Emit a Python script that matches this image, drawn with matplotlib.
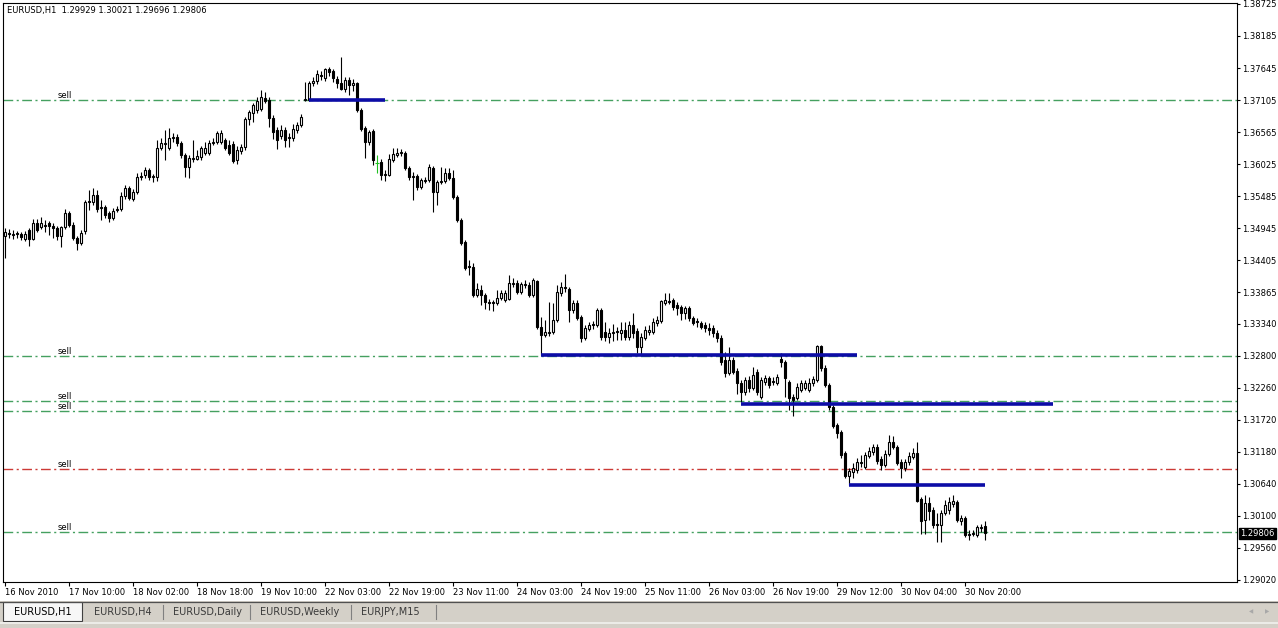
"""
	eurusd_h1_chart.py

	metatrader style candle chart of EURUSD H1 with sell levels
"""

# import required libraries
import numpy as np
import matplotlib
matplotlib.use('Agg')
import matplotlib.pyplot as plt
from matplotlib.patches import Rectangle

# candle data, one value per hourly bar
opens = [
	1.3482, 1.3487, 1.3483, 1.3487, 1.3485, 1.3476, 1.3492, 1.3476, 1.3503, 1.3497,
	1.3500, 1.3503, 1.3498, 1.3495, 1.3482, 1.3497, 1.3520, 1.3500, 1.3478, 1.3470,
	1.3490, 1.3541, 1.3539, 1.3551, 1.3529, 1.3530, 1.3520, 1.3512, 1.3525, 1.3527,
	1.3549, 1.3562, 1.3544, 1.3556, 1.3581, 1.3584, 1.3593, 1.3581, 1.3581, 1.3630,
	1.3637, 1.3630, 1.3647, 1.3648, 1.3638, 1.3618, 1.3598, 1.3611, 1.3611, 1.3615,
	1.3621, 1.3621, 1.3638, 1.3640, 1.3640, 1.3643, 1.3635, 1.3637, 1.3610, 1.3625,
	1.3631, 1.3679, 1.3689, 1.3694, 1.3696, 1.3714, 1.3711, 1.3680, 1.3660, 1.3650,
	1.3660, 1.3647, 1.3647, 1.3660, 1.3669, 1.3711, 1.3711, 1.3739, 1.3743, 1.3753,
	1.3748, 1.3763, 1.3760, 1.3746, 1.3739, 1.3729, 1.3744, 1.3736, 1.3739, 1.3694,
	1.3664, 1.3640, 1.3658, 1.3605, 1.3606, 1.3584, 1.3584, 1.3610, 1.3618, 1.3621,
	1.3621, 1.3596, 1.3581, 1.3583, 1.3564, 1.3574, 1.3576, 1.3596, 1.3556, 1.3573,
	1.3574, 1.3588, 1.3579, 1.3547, 1.3509, 1.3471, 1.3431, 1.3429, 1.3382, 1.3391,
	1.3382, 1.3370, 1.3370, 1.3369, 1.3377, 1.3374, 1.3375, 1.3401, 1.3402, 1.3387,
	1.3399, 1.3399, 1.3382, 1.3406, 1.3328, 1.3315, 1.3318, 1.3320, 1.3340, 1.3385,
	1.3396, 1.3392, 1.3357, 1.3369, 1.3345, 1.3310, 1.3325, 1.3333, 1.3332, 1.3357,
	1.3320, 1.3311, 1.3318, 1.3321, 1.3318, 1.3323, 1.3311, 1.3332, 1.3321, 1.3294,
	1.3310, 1.3320, 1.3320, 1.3335, 1.3338, 1.3369, 1.3372, 1.3374, 1.3365, 1.3362,
	1.3352, 1.3360, 1.3343, 1.3338, 1.3335, 1.3332, 1.3327, 1.3327, 1.3318, 1.3310,
	1.3273, 1.3251, 1.3273, 1.3254, 1.3234, 1.3219, 1.3239, 1.3225, 1.3252, 1.3210,
	1.3236, 1.3242, 1.3237, 1.3234, 1.3274, 1.3269, 1.3236, 1.3210, 1.3209, 1.3222,
	1.3225, 1.3222, 1.3234, 1.3239, 1.3296, 1.3259, 1.3230, 1.3193, 1.3163, 1.3151,
	1.3116, 1.3077, 1.3084, 1.3087, 1.3099, 1.3092, 1.3111, 1.3118, 1.3126, 1.3106,
	1.3096, 1.3114, 1.3134, 1.3126, 1.3101, 1.3091, 1.3101, 1.3109, 1.3116, 1.3038,
	1.3003, 1.3032, 1.3020, 1.2996, 1.2995, 1.3015, 1.3020, 1.3030, 1.3033, 1.3001,
	1.3006, 1.2978, 1.2979, 1.2978, 1.2990, 1.29929]

highs = [
	1.3495, 1.3493, 1.3492, 1.3490, 1.3488, 1.3490, 1.3495, 1.3510, 1.3510, 1.3514,
	1.3509, 1.3507, 1.3503, 1.3498, 1.3498, 1.3527, 1.3524, 1.3505, 1.3482, 1.3492,
	1.3542, 1.3559, 1.3562, 1.3559, 1.3542, 1.3534, 1.3524, 1.3529, 1.3532, 1.3556,
	1.3567, 1.3566, 1.3561, 1.3588, 1.3589, 1.3598, 1.3596, 1.3586, 1.3643, 1.3647,
	1.3660, 1.3664, 1.3655, 1.3653, 1.3642, 1.3621, 1.3618, 1.3643, 1.3626, 1.3633,
	1.3640, 1.3643, 1.3647, 1.3658, 1.3660, 1.3647, 1.3643, 1.3642, 1.3633, 1.3637,
	1.3682, 1.3694, 1.3706, 1.3716, 1.3728, 1.3724, 1.3716, 1.3685, 1.3665, 1.3669,
	1.3665, 1.3655, 1.3670, 1.3674, 1.3687, 1.3741, 1.3743, 1.3749, 1.3761, 1.3760,
	1.3765, 1.3766, 1.3763, 1.3751, 1.3783, 1.3749, 1.3749, 1.3746, 1.3741, 1.3697,
	1.3667, 1.3660, 1.3662, 1.3618, 1.3611, 1.3593, 1.3620, 1.3630, 1.3630, 1.3628,
	1.3625, 1.3599, 1.3589, 1.3586, 1.3579, 1.3581, 1.3603, 1.3599, 1.3576, 1.3598,
	1.3596, 1.3596, 1.3593, 1.3551, 1.3512, 1.3475, 1.3441, 1.3436, 1.3402, 1.3399,
	1.3385, 1.3375, 1.3374, 1.3391, 1.3391, 1.3391, 1.3416, 1.3411, 1.3407, 1.3404,
	1.3407, 1.3404, 1.3411, 1.3407, 1.3345, 1.3340, 1.3370, 1.3369, 1.3399, 1.3404,
	1.3418, 1.3396, 1.3374, 1.3374, 1.3348, 1.3332, 1.3337, 1.3338, 1.3360, 1.3360,
	1.3337, 1.3327, 1.3333, 1.3328, 1.3337, 1.3337, 1.3338, 1.3352, 1.3327, 1.3318,
	1.3330, 1.3332, 1.3343, 1.3347, 1.3374, 1.3385, 1.3385, 1.3377, 1.3370, 1.3365,
	1.3364, 1.3364, 1.3347, 1.3343, 1.3338, 1.3337, 1.3335, 1.3332, 1.3323, 1.3315,
	1.3286, 1.3294, 1.3278, 1.3259, 1.3239, 1.3244, 1.3246, 1.3261, 1.3257, 1.3244,
	1.3247, 1.3246, 1.3244, 1.3249, 1.3284, 1.3273, 1.3239, 1.3215, 1.3234, 1.3239,
	1.3239, 1.3242, 1.3246, 1.3298, 1.3298, 1.3264, 1.3234, 1.3197, 1.3166, 1.3155,
	1.3119, 1.3091, 1.3099, 1.3107, 1.3113, 1.3118, 1.3126, 1.3131, 1.3131, 1.3111,
	1.3121, 1.3146, 1.3145, 1.3129, 1.3106, 1.3106, 1.3118, 1.3124, 1.3134, 1.3042,
	1.3045, 1.3042, 1.3025, 1.3015, 1.3020, 1.3037, 1.3042, 1.3045, 1.3037, 1.3011,
	1.3010, 1.2986, 1.2986, 1.2995, 1.2996, 1.30021]

lows = [
	1.3444, 1.3478, 1.3476, 1.3478, 1.3475, 1.3473, 1.3465, 1.3475, 1.3488, 1.3493,
	1.3488, 1.3483, 1.3478, 1.3475, 1.3463, 1.3493, 1.3497, 1.3475, 1.3458, 1.3466,
	1.3485, 1.3525, 1.3534, 1.3522, 1.3509, 1.3512, 1.3505, 1.3509, 1.3522, 1.3524,
	1.3544, 1.3542, 1.3541, 1.3552, 1.3576, 1.3579, 1.3576, 1.3573, 1.3574, 1.3626,
	1.3610, 1.3626, 1.3640, 1.3633, 1.3613, 1.3581, 1.3579, 1.3606, 1.3610, 1.3610,
	1.3618, 1.3618, 1.3635, 1.3637, 1.3637, 1.3626, 1.3618, 1.3605, 1.3603, 1.3620,
	1.3626, 1.3669, 1.3674, 1.3689, 1.3692, 1.3706, 1.3665, 1.3645, 1.3628, 1.3645,
	1.3631, 1.3631, 1.3642, 1.3655, 1.3665, 1.3709, 1.3709, 1.3734, 1.3738, 1.3744,
	1.3743, 1.3751, 1.3741, 1.3731, 1.3728, 1.3724, 1.3719, 1.3726, 1.3690, 1.3658,
	1.3613, 1.3635, 1.3601, 1.3588, 1.3576, 1.3574, 1.3583, 1.3606, 1.3615, 1.3616,
	1.3593, 1.3576, 1.3542, 1.3559, 1.3561, 1.3571, 1.3573, 1.3522, 1.3534, 1.3569,
	1.3571, 1.3576, 1.3544, 1.3505, 1.3466, 1.3424, 1.3416, 1.3379, 1.3379, 1.3365,
	1.3359, 1.3357, 1.3355, 1.3365, 1.3374, 1.3370, 1.3374, 1.3396, 1.3384, 1.3384,
	1.3394, 1.3379, 1.3379, 1.3325, 1.3281, 1.3311, 1.3313, 1.3316, 1.3337, 1.3380,
	1.3387, 1.3337, 1.3352, 1.3340, 1.3303, 1.3306, 1.3321, 1.3325, 1.3328, 1.3306,
	1.3305, 1.3301, 1.3305, 1.3306, 1.3306, 1.3306, 1.3306, 1.3310, 1.3284, 1.3281,
	1.3306, 1.3315, 1.3316, 1.3330, 1.3335, 1.3365, 1.3367, 1.3357, 1.3348, 1.3340,
	1.3342, 1.3338, 1.3332, 1.3328, 1.3325, 1.3320, 1.3315, 1.3311, 1.3303, 1.3264,
	1.3244, 1.3247, 1.3249, 1.3215, 1.3202, 1.3214, 1.3219, 1.3222, 1.3214, 1.3207,
	1.3230, 1.3225, 1.3230, 1.3230, 1.3261, 1.3210, 1.3188, 1.3178, 1.3205, 1.3219,
	1.3222, 1.3219, 1.3229, 1.3236, 1.3254, 1.3227, 1.3188, 1.3158, 1.3141, 1.3107,
	1.3074, 1.3062, 1.3074, 1.3082, 1.3092, 1.3089, 1.3107, 1.3113, 1.3097, 1.3087,
	1.3092, 1.3111, 1.3123, 1.3096, 1.3074, 1.3086, 1.3096, 1.3106, 1.3033, 1.2979,
	1.2979, 1.3003, 1.2990, 1.2966, 1.2966, 1.3011, 1.3013, 1.3025, 1.3000, 1.2995,
	1.2974, 1.2969, 1.2976, 1.2974, 1.2983, 1.29696]

closes = [
	1.3488, 1.3485, 1.3485, 1.3485, 1.3480, 1.3485, 1.3476, 1.3503, 1.3492, 1.3503,
	1.3498, 1.3498, 1.3495, 1.3482, 1.3497, 1.3520, 1.3500, 1.3478, 1.3470, 1.3487,
	1.3539, 1.3539, 1.3551, 1.3527, 1.3530, 1.3517, 1.3512, 1.3524, 1.3527, 1.3549,
	1.3562, 1.3546, 1.3556, 1.3581, 1.3583, 1.3593, 1.3581, 1.3583, 1.3630, 1.3638,
	1.3638, 1.3647, 1.3648, 1.3638, 1.3618, 1.3598, 1.3613, 1.3613, 1.3616, 1.3630,
	1.3630, 1.3638, 1.3640, 1.3655, 1.3655, 1.3630, 1.3621, 1.3608, 1.3626, 1.3631,
	1.3679, 1.3690, 1.3702, 1.3709, 1.3716, 1.3709, 1.3680, 1.3657, 1.3643, 1.3660,
	1.3643, 1.3648, 1.3662, 1.3669, 1.3682, 1.3712, 1.3739, 1.3743, 1.3755, 1.3751,
	1.3763, 1.3758, 1.3748, 1.3739, 1.3729, 1.3744, 1.3736, 1.3739, 1.3694, 1.3662,
	1.3640, 1.3657, 1.3610, 1.3605, 1.3584, 1.3586, 1.3611, 1.3620, 1.3621, 1.3623,
	1.3596, 1.3581, 1.3583, 1.3564, 1.3576, 1.3576, 1.3598, 1.3556, 1.3573, 1.3574,
	1.3588, 1.3579, 1.3547, 1.3509, 1.3470, 1.3428, 1.3429, 1.3382, 1.3392, 1.3382,
	1.3370, 1.3369, 1.3369, 1.3377, 1.3385, 1.3385, 1.3402, 1.3402, 1.3387, 1.3401,
	1.3401, 1.3382, 1.3407, 1.3328, 1.3315, 1.3320, 1.3320, 1.3340, 1.3387, 1.3396,
	1.3394, 1.3357, 1.3369, 1.3343, 1.3310, 1.3327, 1.3332, 1.3332, 1.3357, 1.3311,
	1.3311, 1.3318, 1.3320, 1.3320, 1.3323, 1.3311, 1.3332, 1.3318, 1.3294, 1.3311,
	1.3323, 1.3323, 1.3337, 1.3340, 1.3372, 1.3374, 1.3370, 1.3362, 1.3360, 1.3352,
	1.3360, 1.3343, 1.3335, 1.3337, 1.3328, 1.3327, 1.3323, 1.3318, 1.3310, 1.3269,
	1.3251, 1.3273, 1.3252, 1.3234, 1.3219, 1.3239, 1.3225, 1.3247, 1.3219, 1.3239,
	1.3242, 1.3230, 1.3236, 1.3244, 1.3269, 1.3242, 1.3209, 1.3205, 1.3227, 1.3234,
	1.3234, 1.3234, 1.3241, 1.3296, 1.3259, 1.3230, 1.3193, 1.3161, 1.3150, 1.3113,
	1.3077, 1.3086, 1.3091, 1.3101, 1.3101, 1.3113, 1.3119, 1.3126, 1.3102, 1.3096,
	1.3114, 1.3134, 1.3126, 1.3099, 1.3091, 1.3101, 1.3111, 1.3116, 1.3035, 1.3001,
	1.3032, 1.3018, 1.2995, 1.2995, 1.3015, 1.3028, 1.3033, 1.3035, 1.3003, 1.3006,
	1.2978, 1.2979, 1.2981, 1.2991, 1.2991, 1.29806]

# time axis labels, one every 16 bars
time_labels = ['16 Nov 2010', '17 Nov 10:00', '18 Nov 02:00', '18 Nov 18:00',
	'19 Nov 10:00', '22 Nov 03:00', '22 Nov 19:00', '23 Nov 11:00',
	'24 Nov 03:00', '24 Nov 19:00', '25 Nov 11:00', '26 Nov 03:00',
	'26 Nov 19:00', '29 Nov 12:00', '30 Nov 04:00', '30 Nov 20:00']
time_label_bars = [0, 16, 32, 48, 64, 80, 96, 112, 128, 144, 160, 176, 192, 208, 224, 240]

# price scale labels
price_ticks = [1.38725, 1.38185, 1.37645, 1.37105, 1.36565, 1.36025, 1.35485,
	1.34945, 1.34405, 1.33865, 1.33340, 1.32800, 1.32260, 1.31720, 1.31180,
	1.30640, 1.30100, 1.29560, 1.29020]

# horizontal "sell" levels
sell_levels = [1.37105, 1.32800, 1.32030, 1.31860, 1.30890, 1.29820]
sell_kinds = ['green', 'green', 'green', 'green', 'red', 'green']

# blue trade lines: first bar, last bar, price
trade_start = [76, 134, 184, 211]
trade_end = [95, 213, 262, 245]
trade_price = [1.37105, 1.32810, 1.31980, 1.30620]

# bars drawn in the line colour (doji)
doji_bars = [93]

tab_names = ['EURUSD,H1', 'EURUSD,H4', 'EURUSD,Daily', 'EURUSD,Weekly', 'EURJPY,M15']

# figure setup
plt.rcParams['font.family'] = 'DejaVu Sans'
plt.rcParams['font.size'] = 6
plt.rcParams['lines.scale_dashes'] = False

W, H = 1278, 628
fig = plt.figure(figsize=(W / 100, H / 100), dpi=100, facecolor='white')

# background axes in pixel units for the tab bar
bg = fig.add_axes([0, 0, 1, 1], zorder=0)
bg.set_xlim(0, W)
bg.set_ylim(H, 0)
bg.axis('off')

# chart area
ax = fig.add_axes([3 / W, (H - 582) / H, 1234 / W, 579 / H], zorder=1)
ax.set_facecolor('white')
ax.set_xlim(-0.5, 308)
ax.set_ylim(1.28985, 1.38741)

o = np.array(opens)
h = np.array(highs)
l = np.array(lows)
c = np.array(closes)
x = np.arange(len(c))

green = '#45a060'
line_green = '#20c020'
red = '#cc3a36'
blue = '#0c0ca6'

# sell levels behind candles
for lev, kind in zip(sell_levels, sell_kinds):
	col = green if kind == 'green' else red
	ax.axhline(lev, color=col, lw=1.0, linestyle=(0, (7, 2.5, 1.5, 2.5)), zorder=1)
	ax.text(0.0446, lev, 'sell', transform=ax.get_yaxis_transform(),
		ha='left', va='bottom', fontsize=6, color='black')

# candle colours
wick_cols = ['black'] * len(c)
for i in doji_bars:
	wick_cols[i] = line_green

# wicks
ax.vlines(x, l, h, colors=wick_cols, lw=0.8, zorder=2)

# bodies
up = c > o
down = c < o
flat = c == o
ax.bar(x[up], (c - o)[up], bottom=o[up], width=0.5, facecolor='white',
	edgecolor='black', lw=0.8, zorder=3)
ax.bar(x[down], (o - c)[down], bottom=c[down], width=0.5, facecolor='black',
	edgecolor='black', lw=0.8, zorder=3)
for i in x[flat]:
	ax.hlines(o[i], i - 0.4, i + 0.4, colors=wick_cols[i], lw=0.8, zorder=3)

# trade lines
for s, e, p in zip(trade_start, trade_end, trade_price):
	ax.plot([s, e], [p, p], color=blue, lw=2.6, solid_capstyle='butt', zorder=4)

# axes styling
for side in ['left', 'right', 'top', 'bottom']:
	ax.spines[side].set_color('black')
	ax.spines[side].set_linewidth(0.8)
ax.yaxis.tick_right()
ax.set_yticks(price_ticks)
ax.set_yticklabels(['%.5f' % p for p in price_ticks])
ax.set_xticks(time_label_bars)
ax.set_xticklabels(time_labels, ha='left')
ax.tick_params(axis='x', direction='out', length=3, width=0.8, pad=1)
ax.tick_params(axis='y', direction='out', length=2.5, width=0.8, pad=1)

# header text
header = 'EURUSD,H1  %.5f %.5f %.5f %.5f' % (opens[-1], highs[-1], lows[-1], closes[-1])
ax.text(0.0032, 0.995, header, transform=ax.transAxes, ha='left', va='top', fontsize=6)

# current price box on the price scale
ax.text(1.0025, closes[-1], '%.5f' % closes[-1], transform=ax.get_yaxis_transform(),
	ha='left', va='center', fontsize=6, color='white', clip_on=False,
	bbox=dict(boxstyle='square,pad=0.15', facecolor='black', edgecolor='black'))

# tab bar at the bottom
bg.add_patch(Rectangle((0, 601), W, 27, facecolor='#d4d0c8', edgecolor='none'))
bg.plot([0, W], [601.5, 601.5], color='#505050', lw=0.9)
bg.plot([0, W], [622.5, 622.5], color='#f2f1ee', lw=1.2)
bg.add_patch(Rectangle((3, 602), 79, 19, facecolor='#f7f7f7', edgecolor='#404040', lw=0.8))
tab_x = [14, 94, 173, 260, 361]
sep_x = [163, 250, 351, 436]
for i, name in enumerate(tab_names):
	bg.text(tab_x[i], 612, name, ha='left', va='center', fontsize=7,
		color='black' if i == 0 else '#3a3a3a')
for sx in sep_x:
	bg.plot([sx, sx], [605, 619], color='#808080', lw=0.8)
bg.text(1251, 612, '\u25c0', ha='center', va='center', fontsize=4, color='#a8a8a8')
bg.text(1267, 612, '\u25b6', ha='center', va='center', fontsize=4, color='#a8a8a8')

# save figure
fig.savefig('out.png', dpi=100, facecolor='white')
